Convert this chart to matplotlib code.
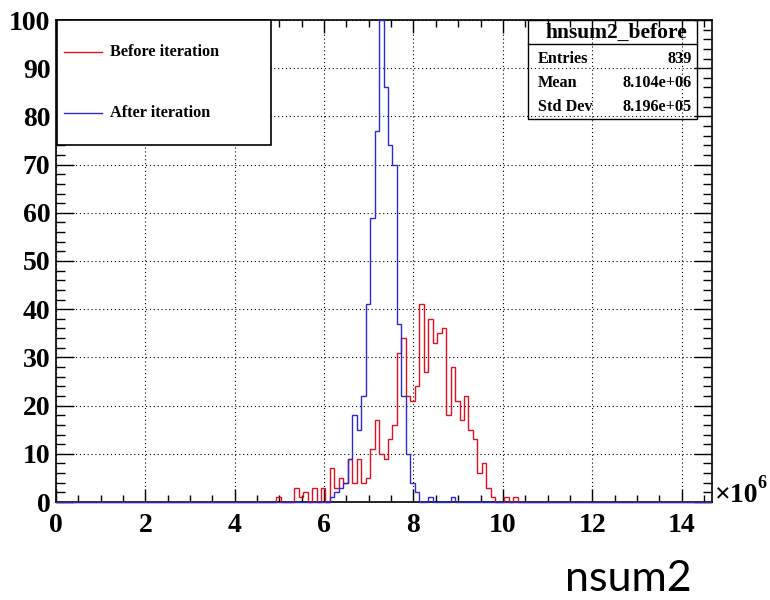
import matplotlib
matplotlib.use("Agg")
import matplotlib.pyplot as plt
from matplotlib.patches import Rectangle
from matplotlib.lines import Line2D
from matplotlib.ticker import MultipleLocator
import numpy as np

# bin left edges (x 1e6) and counts, bins are 0.1 wide
before_x = [4.93, 5.33, 5.43, 5.53, 5.73, 5.93, 6.13,
            6.23, 6.33, 6.43, 6.53, 6.63, 6.73, 6.83, 6.93, 7.03, 7.13, 7.23, 7.33, 7.43, 7.53,
            7.63, 7.73, 7.83, 7.93, 8.03, 8.13, 8.23, 8.33, 8.43, 8.53, 8.63,
            8.73, 8.83, 8.93, 9.03, 9.13, 9.23, 9.33, 9.43, 9.53, 9.63, 9.73,
            10.03, 10.23]
before_n = [1, 3, 1, 2, 3, 3, 7,
            3, 5, 4, 9, 4, 9, 4, 5, 11, 17, 10, 9, 13, 16,
            31, 34, 22, 21, 24, 41, 27, 38, 33, 35, 36,
            18, 28, 21, 17, 22, 15, 13, 6, 8, 3, 1,
            1, 1]

after_x = [6.13, 6.23, 6.33, 6.43, 6.53, 6.63, 6.73, 6.83, 6.93, 7.03, 7.13,
           7.23, 7.33, 7.43, 7.53, 7.63, 7.73, 7.83, 7.93, 8.03, 8.33, 8.83]
after_n = [1, 2, 3, 4, 9, 18, 15, 22, 41, 59, 77,
           100, 86, 74, 70, 37, 22, 10, 4, 2, 1, 1]

stats_rows = [("Entries", "839"), ("Mean", "8.104e+06"), ("Std Dev", "8.196e+05")]

bw = 0.1
start = -0.07
nbins = 148
edges = start + bw * np.arange(nbins + 1)


def fill(xs, ns):
    h = np.zeros(nbins)
    for x, n in zip(xs, ns):
        h[int(round((x - start) / bw))] = n
    return h


h_before = fill(before_x, before_n)
h_after = fill(after_x, after_n)

plt.rcParams['font.family'] = ['Liberation Serif', 'DejaVu Serif']
plt.rcParams['font.weight'] = 'bold'

W, H = 770, 600
fig = plt.figure(figsize=(W / 100, H / 100), dpi=100)
ax = fig.add_axes([56 / W, 98 / H, 656 / W, 482 / H])

red = '#e01020'
blue = '#2a2ad0'
ax.set_xlim(0, 14.68)
ax.set_ylim(0, 100)
st1 = ax.stairs(h_before, edges, color=red, lw=1.0, zorder=3)
st2 = ax.stairs(h_after, edges, color=blue, lw=1.0, zorder=4)
# keep the zero-level outline visible along the x axis but cut it at the frame ends
for st in (st1, st2):
    st.set_clip_box(None)
    st.set_clip_path(Rectangle((0, -2), 14.68, 102, transform=ax.transData))

ax.xaxis.set_major_locator(MultipleLocator(2))
ax.xaxis.set_minor_locator(MultipleLocator(0.5))
ax.yaxis.set_major_locator(MultipleLocator(10))
ax.yaxis.set_minor_locator(MultipleLocator(2))
ax.tick_params(which='both', direction='in', top=True, right=True, width=1)
ax.tick_params(which='major', labelsize=20)
ax.tick_params(axis='x', which='major', length=9.5, pad=8)
ax.tick_params(axis='x', which='minor', length=5)
ax.tick_params(axis='y', which='major', length=13, pad=4)
ax.tick_params(axis='y', which='minor', length=6.5)
for s in ax.spines.values():
    s.set_linewidth(1.2)
ax.grid(True, which='major', color='black', linestyle=(0, (1, 2.5)), linewidth=0.8)


def fx(px):
    return px / W


def fy(py):
    return 1 - py / H


# legend box
fig.patches.append(Rectangle((fx(57), fy(145)), fx(271) - fx(57), fy(20) - fy(145),
                             transform=fig.transFigure, facecolor='white',
                             edgecolor='black', lw=1.2, zorder=5))
fig.lines.append(Line2D([fx(64), fx(102)], [fy(52), fy(52)], color=red, lw=1.0,
                        transform=fig.transFigure, zorder=6))
fig.lines.append(Line2D([fx(64), fx(102)], [fy(113), fy(113)], color=blue, lw=1.0,
                        transform=fig.transFigure, zorder=6))
fig.text(fx(110), fy(52), "Before iteration", fontsize=11.7, va='center', zorder=6)
fig.text(fx(110), fy(113), "After iteration", fontsize=11.7, va='center', zorder=6)

# stats box
fig.patches.append(Rectangle((fx(528), fy(119)), fx(697) - fx(528), fy(20) - fy(119),
                             transform=fig.transFigure, facecolor='none',
                             edgecolor='black', lw=1.0, zorder=5))
fig.lines.append(Line2D([fx(528), fx(697)], [fy(44), fy(44)], color='black', lw=1.0,
                        transform=fig.transFigure, zorder=6))
fig.text(fx(616), fy(33), "hnsum2_before", fontsize=15.5, ha='center', va='center', zorder=6)
for i, (k, v) in enumerate(stats_rows):
    y = fy(59 + 24 * i)
    fig.text(fx(538), y, k, fontsize=11.7, ha='left', va='center', zorder=6)
    fig.text(fx(692), y, v, fontsize=11.7, ha='right', va='center', zorder=6)

# axis multiplier and title
fig.text(fx(715), fy(496), "\u00d710", fontsize=20, ha='left', va='center')
fig.text(fx(757), fy(484), "6", fontsize=13, ha='left', va='center')
fig.text(fx(565), fy(591), "nsum2", fontsize=31, family=['Lato', 'DejaVu Sans'],
         fontweight='normal', ha='left', va='baseline')

fig.savefig("out.png", dpi=100)
